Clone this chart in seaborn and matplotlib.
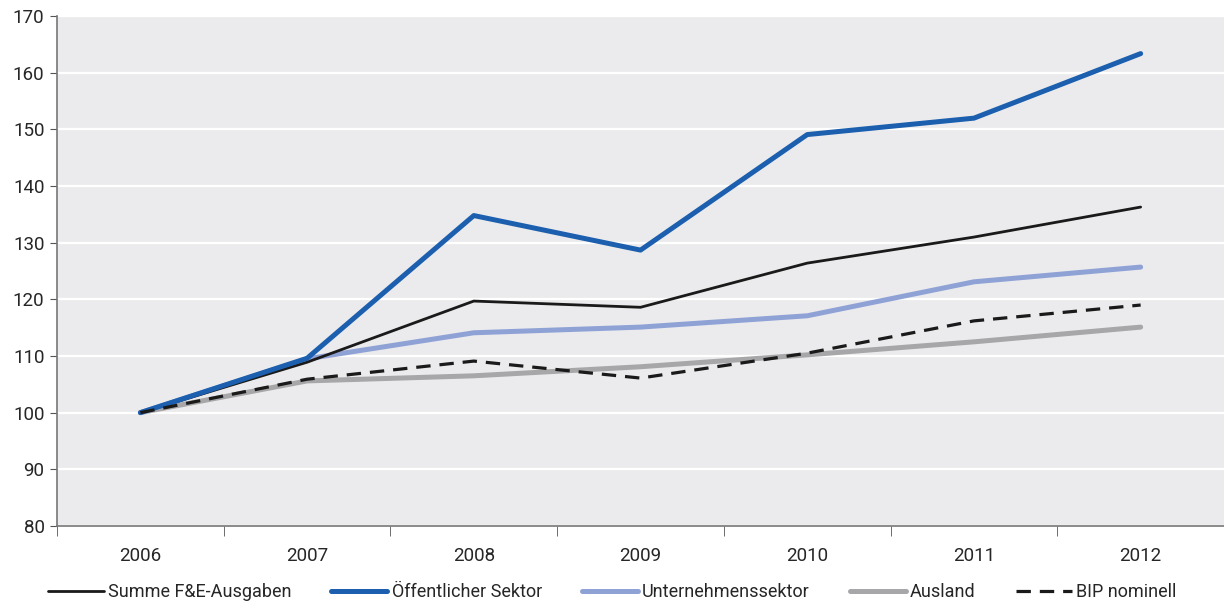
import pandas as pd
import numpy as np
import matplotlib.pyplot as plt
import seaborn as sns
from matplotlib.ticker import FixedLocator

sns.set_style("white")
plt.rcParams['font.family'] = ['Liberation Sans Narrow', 'Roboto', 'DejaVu Sans']

# Daten (Index 2006 = 100)
jahre = ["2006", "2007", "2008", "2009", "2010", "2011", "2012"]
summe = [100, 108.9, 119.7, 118.6, 126.4, 131.0, 136.3]
oeffentlich = [100, 109.6, 134.8, 128.7, 149.1, 152.0, 163.4]
unternehmen = [100, 109.5, 114.1, 115.1, 117.1, 123.1, 125.7]
ausland = [100, 105.6, 106.5, 108.1, 110.2, 112.5, 115.1]
bip = [100, 105.9, 109.1, 106.1, 110.5, 116.2, 119.0]

reihen = {
    "Summe F&E-Ausgaben": summe,
    "Öffentlicher Sektor": oeffentlich,
    "Unternehmenssektor": unternehmen,
    "Ausland": ausland,
    "BIP nominell": bip,
}
farben = {
    "Summe F&E-Ausgaben": "#1a1a1a",
    "Öffentlicher Sektor": "#1b5fae",
    "Unternehmenssektor": "#8fa2d6",
    "Ausland": "#a7a7aa",
    "BIP nominell": "#1a1a1a",
}
breiten = {
    "Summe F&E-Ausgaben": 2.0,
    "Öffentlicher Sektor": 3.6,
    "Unternehmenssektor": 3.6,
    "Ausland": 3.6,
    "BIP nominell": 2.3,
}

df = pd.DataFrame([
    {"Jahr": j, "Index": v, "Reihe": name}
    for name, werte in reihen.items()
    for j, v in zip(jahre, werte)
])

fig = plt.figure(figsize=(12.24, 6.01), dpi=100)
ax = fig.add_axes([0.0466, 0.125, 0.9534, 0.848])
ax.set_facecolor("#ebebed")

# Zeichenreihenfolge: grau, hellblau, schwarz, blau, gestrichelt
for name in ["Ausland", "Unternehmenssektor", "Summe F&E-Ausgaben", "Öffentlicher Sektor", "BIP nominell"]:
    sub = df[df["Reihe"] == name]
    sns.lineplot(data=sub, x="Jahr", y="Index", ax=ax, color=farben[name],
                 linewidth=breiten[name], label=name, sort=False,
                 linestyle=(0, (4.5, 2.8)) if name == "BIP nominell" else "-")

ax.set_ylim(80, 170)
ax.set_xlim(-0.5, 6.5)
ax.set_yticks(np.arange(80, 171, 10))
ax.yaxis.grid(True, color="white", linewidth=1.6)
ax.set_axisbelow(True)
ax.set_xlabel("")
ax.set_ylabel("")

ax.set_xticks(range(len(jahre)))
ax.set_xticklabels(jahre)
ax.xaxis.set_minor_locator(FixedLocator(np.arange(-0.5, 6.6, 1)))
ax.tick_params(axis="x", which="major", length=0, pad=15, labelsize=13.5)
ax.tick_params(axis="x", which="minor", length=7, color="#555555", direction="out", bottom=True)
ax.tick_params(axis="y", length=5, color="#555555", direction="out", left=True, labelsize=13.5, pad=4)

for s in ["top", "right"]:
    ax.spines[s].set_visible(False)
for s in ["left", "bottom"]:
    ax.spines[s].set_color("#777777")
    ax.spines[s].set_linewidth(1.2)

handles, labels = ax.get_legend_handles_labels()
order = ["Summe F&E-Ausgaben", "Öffentlicher Sektor", "Unternehmenssektor", "Ausland", "BIP nominell"]
hmap = dict(zip(labels, handles))
ax.get_legend().remove()
fig.legend([hmap[o] for o in order], order, loc="lower center", ncol=5,
           bbox_to_anchor=(0.5, -0.027), frameon=False, fontsize=13,
           handlelength=3.1, handletextpad=0.25, columnspacing=2.2)

fig.savefig("out.png", dpi=100)
